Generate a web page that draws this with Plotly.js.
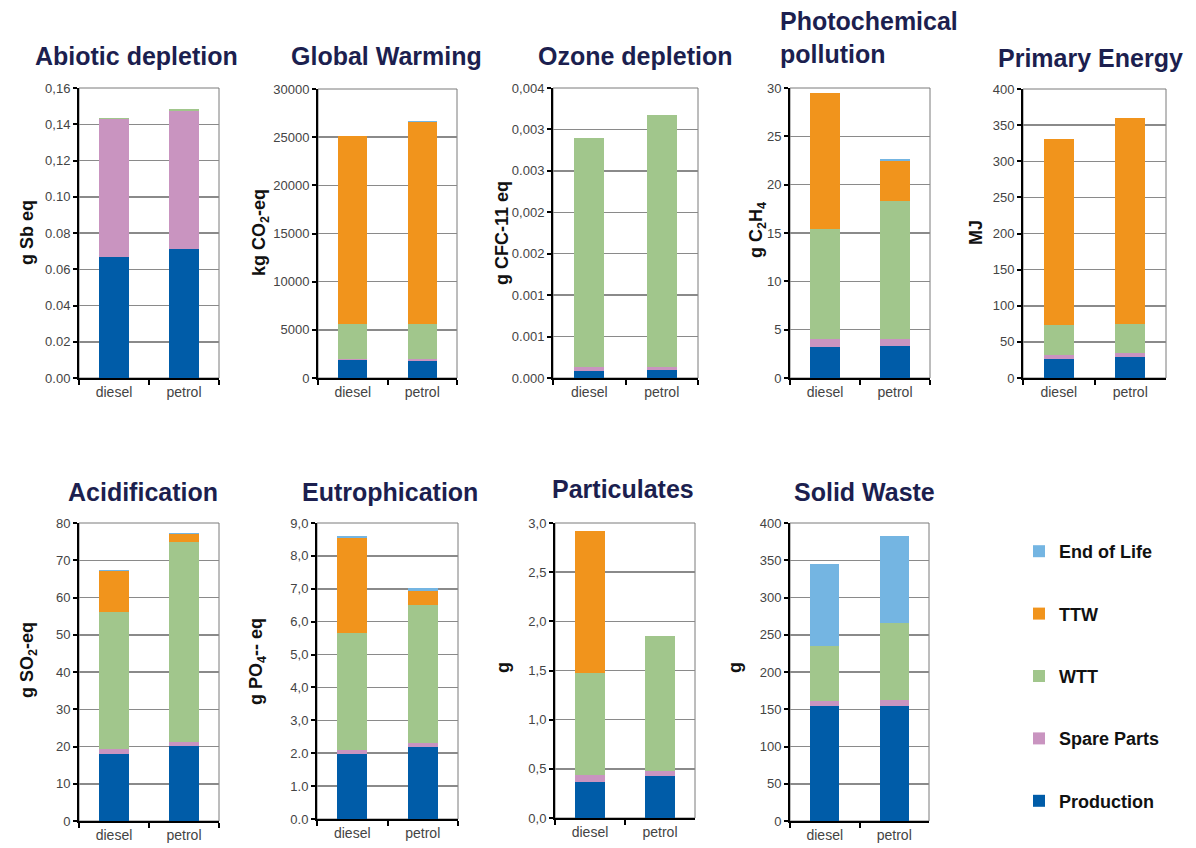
<!DOCTYPE html>
<html>
<head>
<meta charset="utf-8">
<script src="https://cdn.plot.ly/plotly-3.0.1.min.js"></script>
<style>html,body{margin:0;padding:0;background:#fff;}#chart{width:1196px;height:848px;}</style>
</head>
<body>
<div id="chart"></div>
<script>
// ---------- DATA ----------
const categories = ['diesel', 'petrol'];
const seriesNames = ['Production', 'Spare Parts', 'WTT', 'TTW', 'End of Life'];
const chartTitles = ['Abiotic depletion', 'Global Warming', 'Ozone depletion', 'Photochemical<br>pollution', 'Primary Energy',
                     'Acidification', 'Eutrophication', 'Particulates', 'Solid Waste'];
const unitLabels = ['g Sb eq', 'kg CO<sub>2</sub>-eq', 'g CFC-11 eq', 'g C<sub>2</sub>H<sub>4</sub>', 'MJ',
                    'g SO<sub>2</sub>-eq', 'g PO<sub>4</sub>-- eq', 'g', 'g'];
// values per chart: [diesel, petrol]
const production = [[0.067, 0.071], [1850, 1800], [0.00009, 0.00011], [3.2, 3.3], [26, 29],
                    [18.1, 20.1], [1.98, 2.18], [0.37, 0.43], [154, 155]];
const spareParts = [[0.0758, 0.0765], [100, 200], [0.000065, 0.000045], [0.8, 0.7], [6, 5.5],
                    [1.1, 1.2], [0.12, 0.13], [0.07, 0.05], [6.5, 8]];
const wtt        = [[0.0006, 0.001], [3650, 3600], [0.003157, 0.003478], [11.4, 14.3], [41, 40.7],
                    [36.8, 53.5], [3.57, 4.21], [1.03, 1.37], [75, 103]];
const ttw        = [[0, 0], [19470, 21000], [0, 0], [14.1, 4.2], [258, 284.7],
                    [11.0, 2.3], [2.87, 0.42], [1.45, 0], [0, 0]];
const endOfLife  = [[0, 0], [30, 120], [0, 0], [0, 0.15], [0, 0],
                    [0.4, 0.2], [0.06, 0.07], [0, 0], [109.5, 116.5]];
const axisMax = [0.16, 30000, 0.004, 30, 400, 80, 9, 3, 400];
const tickLabels = [
  ['0.00', '0.02', '0.04', '0.06', '0.08', '0.10', '0,12', '0,14', '0,16'],
  ['0', '5000', '10000', '15000', '20000', '25000', '30000'],
  ['0.000', '0.001', '0.001', '0.002', '0,002', '0.003', '0,003', '0,004'],
  ['0', '5', '10', '15', '20', '25', '30'],
  ['0', '50', '100', '150', '200', '250', '300', '350', '400'],
  ['0', '10', '20', '30', '40', '50', '60', '70', '80'],
  ['0.0', '1.0', '2.0', '3,0', '4,0', '5,0', '6,0', '7,0', '8,0', '9,0'],
  ['0,0', '0,5', '1,0', '1,5', '2,0', '2,5', '3,0'],
  ['0', '50', '100', '150', '200', '250', '300', '350', '400']
];

// ---------- STYLE / LAYOUT ----------
const W = 1196, H = 848;
const seriesColors = ['#005ca8', '#c994c0', '#a1c68c', '#f1941c', '#74b5e2'];
const seriesData = [production, spareParts, wtt, ttw, endOfLife];
const pxX = [[79,219],[318,457],[553,698],[790,930],[1023,1166],[79,219],[317,458],[555,695],[790,929]];
const pxY = [[88,378],[89,378],[88,378],[88,378],[89,378],[523,821],[523,819],[523,818],[523,821]];
const titlePos = [[136,56],[386,56],[635,56],[778,38],[1090,58],[143,492],[390,492],[623,489],[864,492]];
const unitPos = [[27,233],[260,233],[502,233],[757,230],[976,233],[28,660],[257,662],[503,668],[735,668]];
const narrow = '"Liberation Sans Narrow", "Arial Narrow", "Liberation Sans", Arial, sans-serif';

const traces = [];
const layout = {
  width: W, height: H,
  margin: {l: 0, r: 0, t: 0, b: 0},
  paper_bgcolor: '#ffffff', plot_bgcolor: '#ffffff',
  barmode: 'stack',
  showlegend: true,
  legend: {
    x: 1019 / W, y: 1 - 533 / H, xanchor: 'left', yanchor: 'top',
    traceorder: 'grouped', tracegroupgap: 36,
    font: {family: narrow, size: 18, color: '#111111', weight: 'bold'},
    bgcolor: 'rgba(0,0,0,0)', borderwidth: 0
  },
  annotations: [], shapes: []
};

for (let c = 0; c < 9; c++) {
  const ax = c === 0 ? '' : String(c + 1);
  for (let s = 0; s < 5; s++) {
    traces.push({
      type: 'bar', x: categories, y: seriesData[s][c], name: seriesNames[s],
      xaxis: 'x' + ax, yaxis: 'y' + ax, width: 0.42,
      marker: {color: seriesColors[s], line: {width: 0}},
      legendgroup: seriesNames[s], legendrank: 10 - s,
      showlegend: c === 0, hoverinfo: 'name+y'
    });
  }
  const n = tickLabels[c].length;
  const tv = tickLabels[c].map((t, i) => i * axisMax[c] / (n - 1));
  layout['xaxis' + ax] = {
    domain: [pxX[c][0] / W, pxX[c][1] / W], anchor: 'y' + ax,
    type: 'category', range: [-0.5, 1.5], fixedrange: true,
    showline: true, linecolor: '#000', linewidth: 2,
    ticks: 'outside', tickson: 'boundaries', ticklen: 5, tickwidth: 2, tickcolor: '#000',
    showgrid: false, zeroline: false,
    tickfont: {family: narrow, size: 14, color: '#444'}
  };
  layout['yaxis' + ax] = {
    domain: [1 - pxY[c][1] / H, 1 - pxY[c][0] / H], anchor: 'x' + ax,
    range: [0, axisMax[c]], fixedrange: true,
    tickmode: 'array', tickvals: tv, ticktext: tickLabels[c],
    showline: true, linecolor: '#000', linewidth: 2,
    ticks: 'outside', ticklen: 4, tickwidth: 2, tickcolor: '#000',
    showgrid: true, gridcolor: '#8a8a8a', gridwidth: 1.5, zeroline: false,
    tickfont: {family: narrow, size: 13, color: '#444'}
  };
  layout.shapes.push({
    type: 'rect', xref: 'x' + ax + ' domain', yref: 'y' + ax + ' domain',
    x0: 0, x1: 1, y0: 0, y1: 1, layer: 'below',
    line: {color: '#7a7a7a', width: 1}
  });
  const isPhoto = c === 3;
  layout.annotations.push({
    text: chartTitles[c], xref: 'paper', yref: 'paper',
    x: titlePos[c][0] / W, y: 1 - titlePos[c][1] / H,
    xanchor: isPhoto ? 'left' : 'center', yanchor: 'middle', align: 'left',
    showarrow: false,
    font: {family: '"Liberation Sans", Arial, sans-serif', size: 25, color: '#1c1f4f', weight: 'bold'}
  });
  layout.annotations.push({
    text: unitLabels[c], xref: 'paper', yref: 'paper',
    x: unitPos[c][0] / W, y: 1 - unitPos[c][1] / H,
    xanchor: 'center', yanchor: 'middle', textangle: -90, showarrow: false,
    font: {family: narrow, size: 18, color: '#111', weight: 'bold'}
  });
}

Plotly.newPlot('chart', traces, layout, {staticPlot: true, displayModeBar: false});
</script>
</body>
</html>
